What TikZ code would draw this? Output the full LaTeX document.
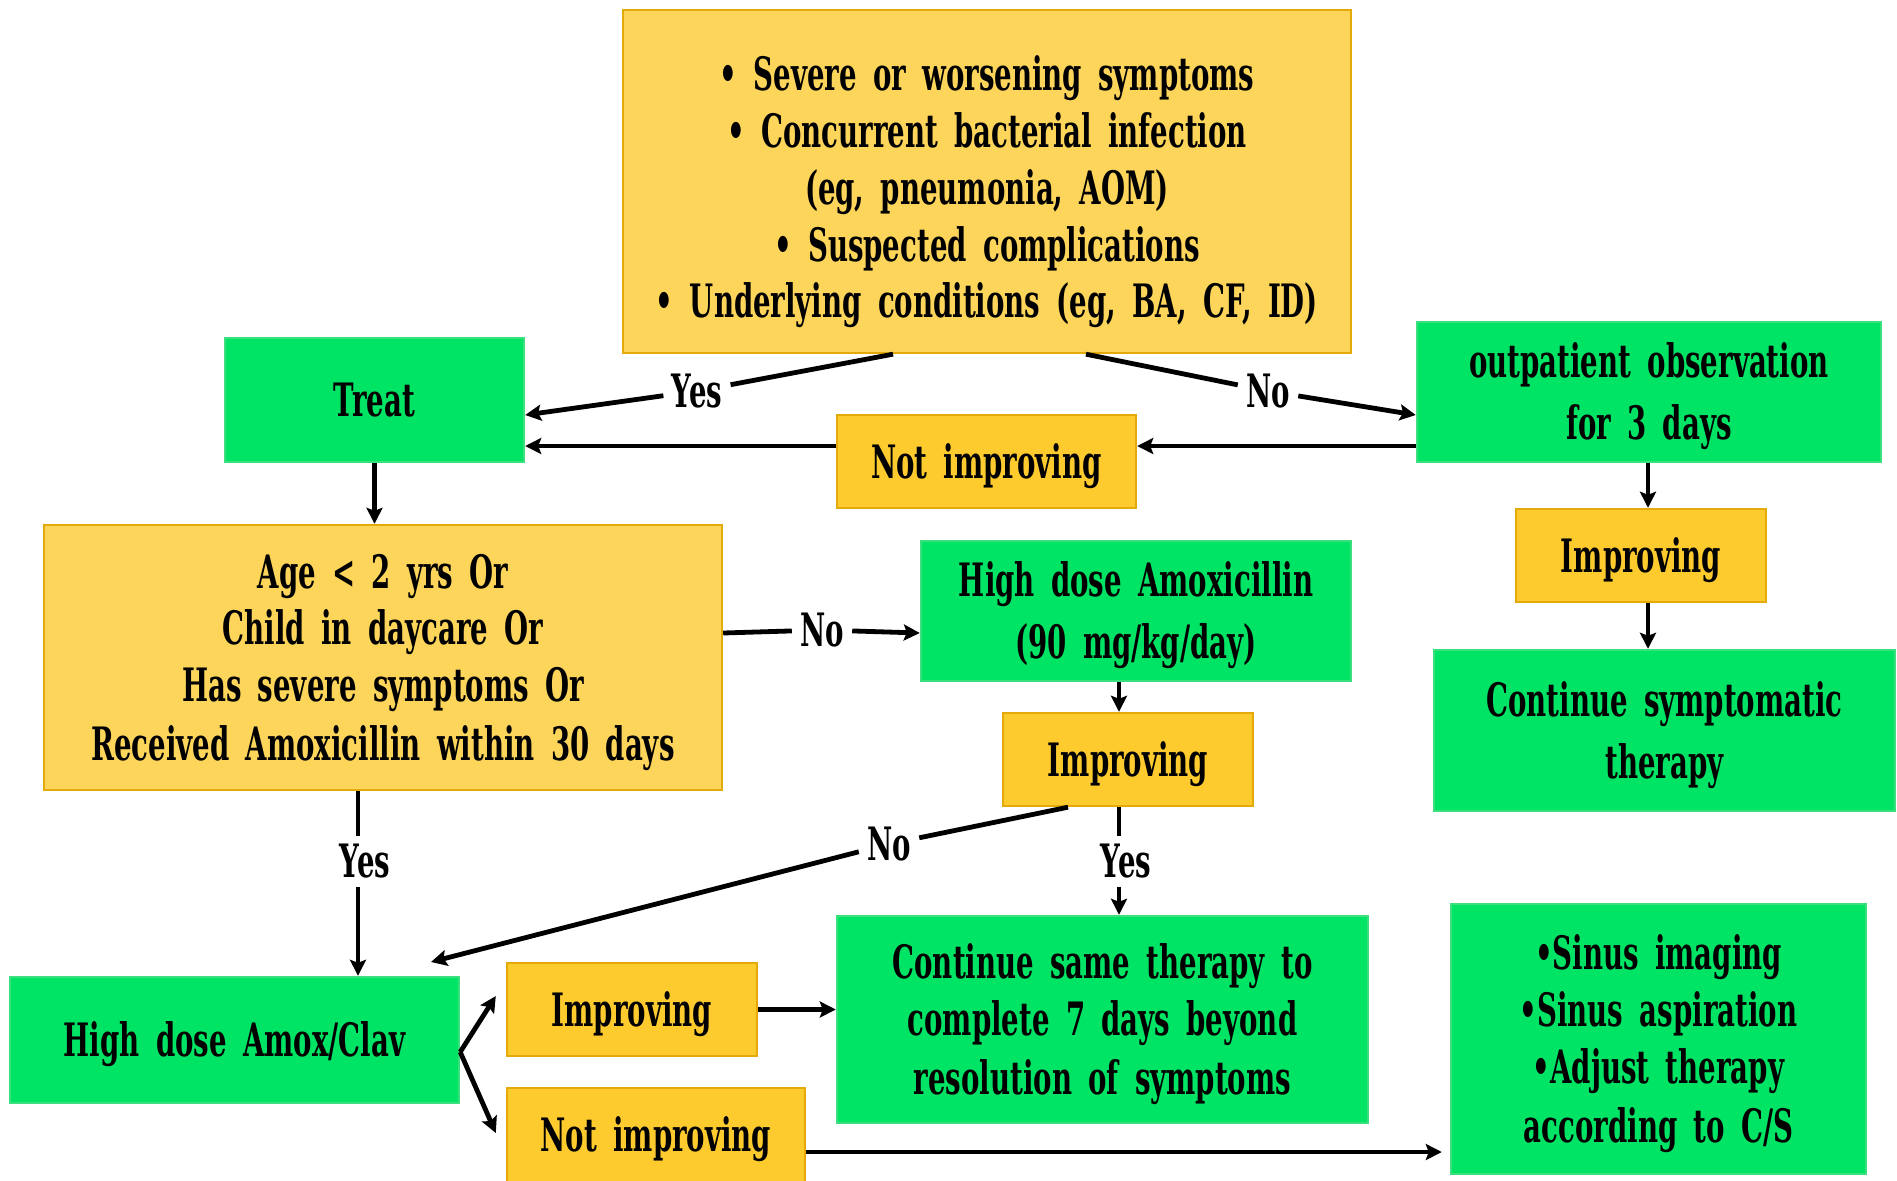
\documentclass[tikz,border=0pt]{standalone}
\usepackage{fontspec}
\setmainfont{DejaVu Serif}[FakeStretch=0.6,WordSpace=1.7]
\usetikzlibrary{arrows.meta,calc}
\definecolor{boxgreen}{HTML}{00E466}
\definecolor{greenedge}{HTML}{3BDF7E}
\definecolor{paleyellow}{HTML}{FDD55B}
\definecolor{deepyellow}{HTML}{FECB2F}
\definecolor{goldedge}{HTML}{E3AA0A}
% invisible strut: centres the capitals of a text block in its box
\newcommand\lnstrut{\rule[-0.2855em]{0pt}{1.3em}}
% taller strut for the first line of the criteria box
\newcommand\topstrut{\rule[-0.2855em]{0pt}{\dimexpr1.3em+6pt\relax}}
\begin{document}
\begin{tikzpicture}[x=0.5pt,y=-0.5pt,
  sz/.style 2 args={minimum width=#1*0.5pt, minimum height=#2*0.5pt},
  box/.style={draw, line width=1.2pt, inner sep=0pt, align=center,
    font=\fontsize{23}{28.4}\bfseries},
  gbox/.style={box, fill=boxgreen, draw=greenedge},
  ybox/.style={box, fill=paleyellow, draw=goldedge},
  dbox/.style={box, fill=deepyellow, draw=goldedge},
  lbl/.style={inner sep=4pt, font=\fontsize{23}{28.4}\bfseries},
  link/.style={line width=2.4pt},
  arr/.style={link, -{Stealth[length=8pt,width=8pt,inset=1.5pt]}},
]
\useasboundingbox (0,0) rectangle (1897,1180);

% boxes
\node[ybox, sz={728}{343}] (top) at (987,181.5)
  {\topstrut• Severe or worsening symptoms\\
   • Concurrent bacterial infection\\
   (eg, pneumonia, AOM)\\
   • Suspected complications\\
   • Underlying conditions (eg, BA, CF, ID)\lnstrut};
\node[gbox, sz={299}{124}] (treat) at (374.5,400) {\lnstrut Treat};
\node[gbox, sz={464}{140}] (outpatient) at (1649,392)
  {\lnstrut outpatient observation\\for 3 days\lnstrut};
\node[dbox, sz={299}{93}] (notimp1) at (986.5,461.5) {\lnstrut Not improving};
\node[dbox, sz={250}{93}] (imp1) at (1641,555.5) {\lnstrut Improving};
\node[gbox, sz={461}{161}] (contsym) at (1664.5,730.5)
  {\lnstrut Continue symptomatic\\therapy\lnstrut};
\node[ybox, sz={678}{265}] (age) at (383,657.5)
  {\lnstrut Age < 2 yrs Or\\Child in daycare Or\\Has severe symptoms Or\\
   Received Amoxicillin within 30 days\lnstrut};
\node[gbox, sz={430}{140}] (hda) at (1136,611)
  {\lnstrut High dose Amoxicillin\\(90 mg/kg/day)\lnstrut};
\node[dbox, sz={250}{93}] (imp2) at (1128,759.5) {\lnstrut Improving};
\node[gbox, sz={531}{207}] (contsame) at (1102.5,1019.5)
  {\lnstrut Continue same therapy to\\complete 7 days beyond\\
   resolution of symptoms\lnstrut};
\node[gbox, sz={415}{270}] (sinus) at (1658.5,1039)
  {\lnstrut•Sinus imaging\\•Sinus aspiration\\•Adjust therapy\\
   according to C/S\lnstrut};
\node[gbox, sz={449}{126}] (amoxclav) at (234.5,1040)
  {\lnstrut High dose Amox/Clav};
\node[dbox, sz={250}{93}] (imp3) at (632,1009.5) {\lnstrut Improving};
\node[dbox, sz={298}{94}] (notimp3) at (656,1135) {\lnstrut Not improving};

% branch labels
\node[lbl] (yes1) at (697,391) {Yes};
\node[lbl] (no1) at (1268,391) {No};
\node[lbl] (no2) at (822,630) {No};
\node[lbl] (yes2) at (1126,861) {Yes};
\node[lbl] (no3) at (889,844) {No};
\node[lbl] (yes3) at (365,861) {Yes};

\coordinate (clavin) at (431,962);
\coordinate (fork) at (amoxclav.east |- 0,1052);

% connectors
\draw[link] ([xshift=-47pt]top.south) -- (yes1);
\draw[arr] (yes1) -- (treat.east |- 0,415);
\draw[link] ([xshift=49.5pt]top.south) -- (no1);
\draw[arr] (no1) -- (outpatient.west |- 0,415);
\draw[arr] (outpatient.west |- 0,446) -- (notimp1.east |- 0,446);
\draw[arr] (notimp1.west |- 0,446) -- (treat.east |- 0,446);
\draw[arr] (treat.south) -- (age.north -| treat.south);
\draw[link] (age.east |- 0,633) -- (no2);
\draw[arr] (no2) -- (hda.west |- 0,633);
\draw[arr] (hda.south -| 1119,0) -- (imp2.north -| 1119,0);
\draw[arr] (outpatient.south -| 1648,0) -- (imp1.north -| 1648,0);
\draw[arr] (imp1.south -| 1648,0) -- (contsym.north -| 1648,0);
\draw[link] (imp2.south -| 1119,0) -- (yes2.north -| 1119,0);
\draw[arr] (yes2.south -| 1119,0) -- (contsame.north -| 1119,0);
\draw[link] (imp2.south -| 1068,0) -- (no3);
\draw[arr] (no3) -- (clavin);
\draw[link] (age.south -| 358,0) -- (yes3.north -| 358,0);
\draw[arr] (yes3.south -| 358,0) -- (amoxclav.north -| 358,0);
\draw[arr] (fork) -- ($(imp3.west)+(-10,-13.5)$);
\draw[arr] (fork) -- ($(notimp3.west)+(-10,-2)$);
\draw[arr] (imp3.east) -- (contsame.west |- imp3.east);
\draw[arr, shorten >=4pt] (notimp3.east |- 0,1152) -- (sinus.west |- 0,1152);
\end{tikzpicture}
\end{document}
